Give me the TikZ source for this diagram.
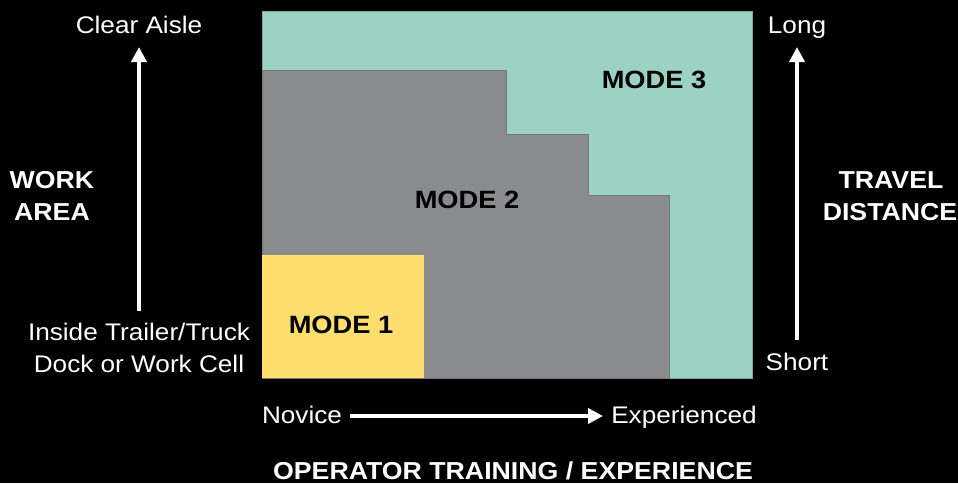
\documentclass[tikz,border=0pt]{standalone}
\usepackage{fontspec}
\setmainfont{Liberation Sans}[FakeStretch=1.09]
\usetikzlibrary{arrows.meta}
\definecolor{teal3}{HTML}{9BD2C4}
\definecolor{gray2}{HTML}{8A8B8D}
\definecolor{yel1}{HTML}{FEDD6F}
\begin{document}
\begin{tikzpicture}[x=1pt,y=-1pt,
  lbl/.style={text=white,font=\fontsize{24}{28}\selectfont,anchor=base,inner sep=0pt},
  blbl/.style={text=white,font=\bfseries\fontsize{24.5}{28}\selectfont,anchor=base,inner sep=0pt},
  modelbl/.style={text=black,font=\bfseries\fontsize{25}{30}\selectfont,anchor=base,inner sep=0pt},
  axisarrow/.style={draw=white,line width=4pt,-{Triangle[length=15pt,width=15pt]}}]
\fill[black] (0,0) rectangle (958,483);
\useasboundingbox (0,0) rectangle (958,483);
% regions
\filldraw[fill=teal3,draw=teal3!80!black,line width=0.6pt] (262,11) rectangle (752,378);
\filldraw[fill=gray2,draw=gray2!85!black,line width=0.6pt] (262,70) -- (506,70) -- (506,134) -- (588,134) -- (588,195) -- (669,195) -- (669,378) -- (262,378) -- cycle;
\fill[yel1] (262,255) rectangle (424,378);
\node[modelbl] (m3) at (654,88) {MODE 3};
\node[modelbl] (m2) at (467,208) {MODE 2};
\node[modelbl] (m1) at (341,333) {MODE 1};
% left axis
\node[lbl] (clear) at (139,33) {Clear Aisle};
\node[lbl] (inside) at (139,340) {Inside Trailer/Truck};
\node[lbl] (dock) at (139,372) {Dock or Work Cell};
\node[blbl] (work) at (52,188) {WORK};
\node[blbl] (area) at (52,220) {AREA};
\coordinate (la0) at (139,311);
\coordinate (la1) at (139,47);
\draw[axisarrow] (la0) -- (la1);
% right axis
\node[lbl] (long) at (797,33) {Long};
\node[lbl] (short) at (797,370) {Short};
\node[blbl] (travel) at (891,188) {TRAVEL};
\node[blbl] (dist) at (890,220) {DISTANCE};
\coordinate (ra0) at (797,340);
\coordinate (ra1) at (797,47);
\draw[axisarrow] (ra0) -- (ra1);
% bottom axis
\node[lbl] (nov) at (302,423) {Novice};
\node[lbl] (exp) at (684,423) {Experienced};
\node[blbl] (oper) at (513,479) {OPERATOR TRAINING / EXPERIENCE};
\coordinate (ba0) at (350,416);
\coordinate (ba1) at (603,416);
\draw[axisarrow] (ba0) -- (ba1);
\end{tikzpicture}
\end{document}
